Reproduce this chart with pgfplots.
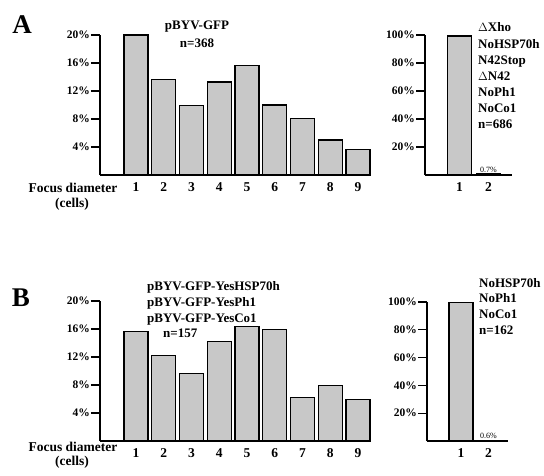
\documentclass[border=0pt]{standalone}
\usepackage{fontspec}
\setmainfont{Liberation Serif}
\usepackage{pgfplots}
\pgfplotsset{compat=1.18}
\definecolor{barfill}{RGB}{200,200,200}
\pgfplotsset{
  panel/.style={
    scale only axis, anchor=south west,
    axis lines=left, axis line style={-, line width=1.8pt},
    ymin=0, enlargelimits=false, clip=false,
    ybar, bar width=24pt,
    xtick={1,...,9}, xticklabels={1,2,3,4,5,6,7,8,9},
    x tick style={draw=none},
    y tick style={line width=1.3pt, black},
    tick align=outside, major tick length=9pt,
    yticklabel style={font=\fontsize{11.5}{12}\selectfont\bfseries, inner sep=1pt},
    xticklabel style={font=\fontsize{13.5}{14}\selectfont\bfseries, yshift=5pt},
  },
  bars/.style={draw=black, line width=1.2pt, fill=barfill},
}
\newcommand{\lbl}{\fontsize{13}{16}\selectfont\bfseries}
\begin{document}
\begin{tikzpicture}[x=1pt,y=1pt]
\useasboundingbox (0,0) rectangle (544,475);
% ---------- Panel A left
\begin{axis}[panel, at={(100pt,300pt)}, width=270pt, height=140pt,
  xmin=-0.297, xmax=9.433, ymax=20,
  ytick={4,8,12,16,20}, yticklabels={4\%,8\%,12\%,16\%,20\%}]
\addplot[bars] coordinates {(1,20) (2,13.7) (3,9.9) (4,13.3) (5,15.6) (6,10) (7,8.1) (8,5) (9,3.7)};
\end{axis}
% ---------- Panel A right
\begin{axis}[panel, at={(425pt,300pt)}, width=87pt, height=140pt,
  xmin=-0.19, xmax=2.81, ymax=100, xtick={1,2}, xticklabels={1,2},
  ytick={20,40,60,80,100}, yticklabels={20\%,40\%,60\%,80\%,100\%}]
\addplot[bars] coordinates {(1,99.3) (2,0.7)};
\node[font=\fontsize{8}{9}\selectfont, anchor=south, inner sep=1pt] at (axis cs:2,0.7) {0.7\%};
\end{axis}
% ---------- Panel B left
\begin{axis}[panel, at={(100pt,34pt)}, width=270pt, height=140pt,
  xmin=-0.297, xmax=9.433, ymax=20,
  ytick={4,8,12,16,20}, yticklabels={4\%,8\%,12\%,16\%,20\%}]
\addplot[bars] coordinates {(1,15.7) (2,12.2) (3,9.6) (4,14.2) (5,16.4) (6,15.9) (7,6.2) (8,7.9) (9,5.9)};
\end{axis}
% ---------- Panel B right
\begin{axis}[panel, at={(427pt,34pt)}, width=81pt, height=139pt,
  xmin=-0.236, xmax=2.71, ymax=100, xtick={1,2}, xticklabels={1,2},
  ytick={20,40,60,80,100}, yticklabels={20\%,40\%,60\%,80\%,100\%}]
\addplot[bars] coordinates {(1,99.4) (2,0.6)};
\node[font=\fontsize{8}{9}\selectfont, anchor=south, inner sep=1pt] at (axis cs:2,0.6) {0.6\%};
\end{axis}
% ---------- Text
\node[font=\fontsize{27}{27}\selectfont\bfseries] at (22,450) {A};
\node[font=\fontsize{27}{27}\selectfont\bfseries] at (21,177) {B};
\node[font=\lbl] at (197,448) {pBYV-GFP};
\node[font=\lbl] at (197,432) {n=368};
\foreach \t/\y in {$\Delta$Xho/27, NoHSP70h/44, N42Stop/60, $\Delta$N42/76, NoPh1/92, NoCo1/108, n=686/124}
  \node[font=\lbl, anchor=base west, inner sep=0pt] at (478,{475-\y-4.5}) {\t};
\foreach \t/\y in {pBYV-GFP-YesHSP70h/286, pBYV-GFP-YesPh1/302, pBYV-GFP-YesCo1/318}
  \node[font=\lbl, anchor=base west, inner sep=0pt] at (147,{475-\y-4.5}) {\t};
\node[font=\lbl, anchor=base west, inner sep=0pt] at (163,{475-333-4.5}) {n=157};
\foreach \t/\y in {NoHSP70h/283, NoPh1/298, NoCo1/314, n=162/330}
  \node[font=\lbl, anchor=base west, inner sep=0pt] at (479,{475-\y-4.5}) {\t};
\node[font=\fontsize{13.5}{15}\selectfont\bfseries] at (73,{475-188}) {Focus diameter};
\node[font=\fontsize{13.5}{15}\selectfont\bfseries] at (72,{475-204}) {(cells)};
\node[font=\fontsize{13.5}{15}\selectfont\bfseries] at (73,{475-447}) {Focus diameter};
\node[font=\fontsize{13.5}{15}\selectfont\bfseries] at (72,{475-462}) {(cells)};
\end{tikzpicture}
\end{document}
